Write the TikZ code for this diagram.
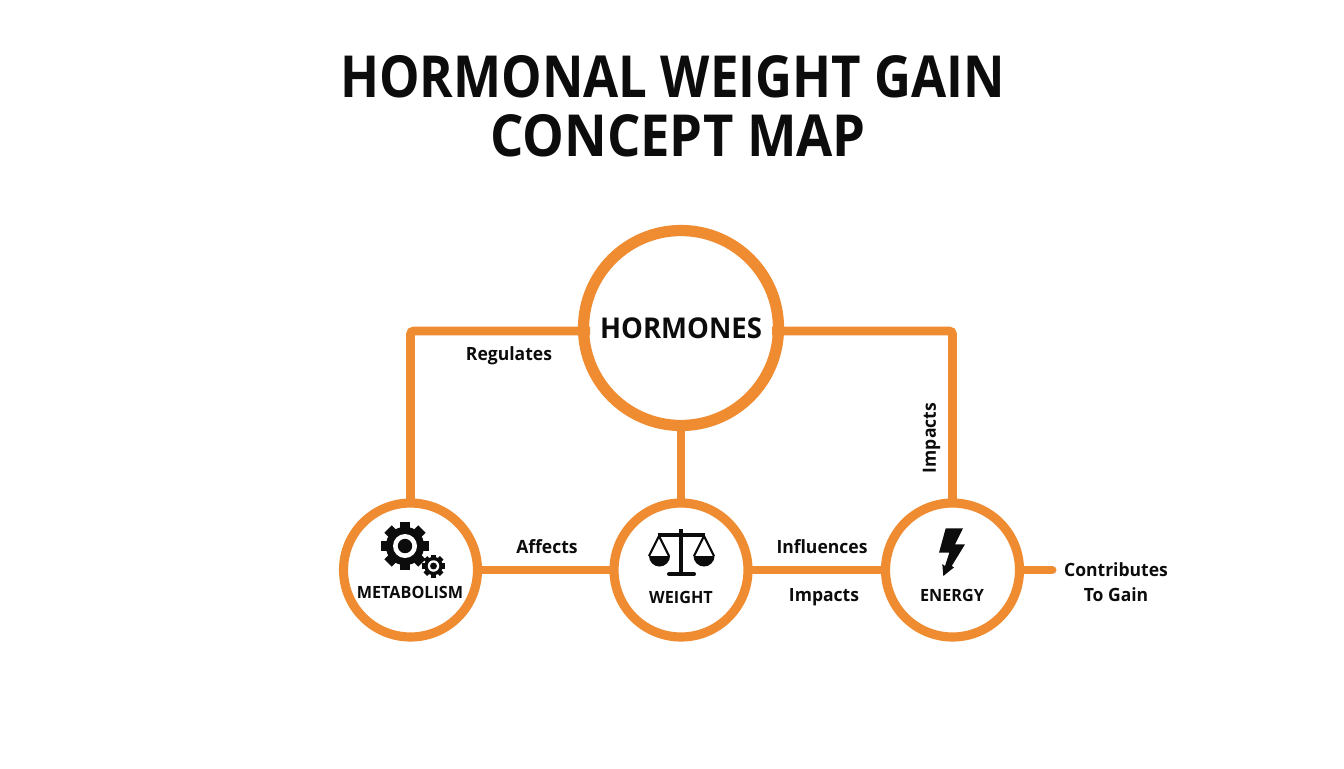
\documentclass[tikz,border=0pt]{standalone}
\usepackage{fontspec}
\setmainfont{Open Sans}[FakeStretch=0.96]
\newfontfamily\titlefont{Open Sans}[FakeStretch=0.88]
\definecolor{huborange}{HTML}{EF8B30}
\definecolor{inkblack}{HTML}{0C0C0C}
\tikzset{
	hub/.style={circle,draw=huborange,line width=5.2pt,fill=white,inner sep=0pt,outer sep=0pt},
	bighub/.style={hub,line width=6.4pt,minimum size=3.9cm,font=\fontsize{16.3}{18}\selectfont\bfseries,text=inkblack},
	link/.style={draw=huborange,line width=5.1pt,rounded corners=2pt},
	title/.style={font=\titlefont\fontsize{33}{33}\selectfont\bfseries,text=inkblack},
	word/.style={font=\fontsize{10.4}{12}\selectfont\bfseries,text=inkblack},
	caption/.style={font=\fontsize{9.6}{12}\selectfont\bfseries,text=inkblack},
}
\newcommand{\gearicon}[3]{
	\foreach \a in {0,45,...,315}
		\fill[inkblack,rotate around={\a:(#1,#2)}] (#1-0.22*#3,#2) rectangle (#1+0.22*#3,#2-#3);
	\fill[inkblack] (#1,#2) circle[radius=0.8*#3];
	\fill[white] (#1,#2) circle[radius=0.5*#3];
	\fill[inkblack] (#1,#2) circle[radius=0.3*#3];
}
\begin{document}
\begin{tikzpicture}[x=0.02cm,y=-0.02cm]
	\useasboundingbox (0,0) rectangle (1344,768);
	\node[title] (headingone) at (672.5,77) {HORMONAL WEIGHT GAIN};
	\node[title,xscale=1.03,transform shape] (headingtwo) at (678,135.5) {CONCEPT MAP};
	\coordinate (tail) at (1052,570);
	\coordinate (hormonesleft) at (590,331);
	\coordinate (hormonesright) at (772,331);
	\node[bighub] (hormones) at (681,328) {HORMONES};
	\node[hub,minimum size=2.68cm] (metabolism) at (410.5,570) {};
	\node[hub,minimum size=2.68cm] (weight) at (681,570) {};
	\node[hub,minimum size=2.68cm] (energy) at (952.5,570) {};
	\draw[link] (hormonesleft) -| (metabolism.north);
	\draw[link] (hormonesright) -| (energy.north);
	\draw[link] (hormones.south) -- (weight.north);
	\draw[link] (metabolism.east) -- (weight.west);
	\draw[link] (weight.east) -- (energy.west);
	\draw[link,line cap=round] (energy.east) -- (tail);
	\node[caption] (metabolismname) at (410,592) {METABOLISM};
	\node[caption] (weightname) at (681,597) {WEIGHT};
	\node[caption] (energyname) at (952,595) {ENERGY};
	\gearicon{405}{546}{24}
	\gearicon{433.5}{566}{11.5}
	\draw[inkblack,line width=2.4pt] (681,529) -- (681,574);
	\draw[inkblack,line width=2.3pt,line cap=round] (669,574) -- (694,574);
	\draw[inkblack,line width=2pt] (658,535) -- (705,535);
	\draw[inkblack,line width=1.2pt,line join=round] (649,556) -- (659,536) -- (669,556);
	\draw[inkblack,line width=1.2pt,line join=round] (694,556) -- (704,536) -- (714,556);
	\fill[inkblack] (649,556) arc[start angle=180,end angle=0,radius=10.5] -- cycle;
	\fill[inkblack] (693.5,556) arc[start angle=180,end angle=0,radius=10.5] -- cycle;
	\fill[inkblack] (945.7,528.3) -- (963,528.3) -- (955,544.3) -- (965,544.3) -- (951.7,566) -- (954,567.3) -- (943.3,576) -- (942.3,564) -- (945,566) -- (949.3,552.7) -- (939,552.7) -- cycle;
	\node[word] (regulates) at (509,356) {Regulates};
	\node[word,rotate=90] (impactsup) at (931.5,438) {Impacts};
	\node[word] (affects) at (547,547) {Affects};
	\node[word] (influences) at (822,547) {Influences};
	\node[word] (impacts) at (824,597) {Impacts};
	\node[word] (contributes) at (1116,570) {Contributes};
	\node[word] (togain) at (1116,595) {To Gain};
\end{tikzpicture}
\end{document}
